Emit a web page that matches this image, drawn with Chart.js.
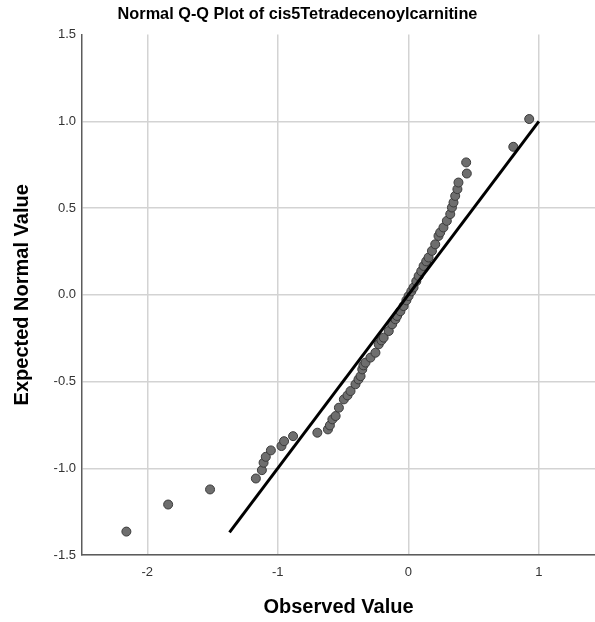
<!DOCTYPE html>
<html lang="en">
<head>
  <meta charset="UTF-8">
  <title>Normal Q-Q Plot</title>
  <script src="https://cdn.jsdelivr.net/npm/chart.js"></script>
  <style>
    html, body { margin: 0; padding: 0; background: #fff; }
    #wrap { width: 595px; height: 622px; }
  </style>
</head>
<body>
  <div id="wrap"><canvas id="qq" width="595" height="622"></canvas></div>

  <script>
    const observed = [
      -2.160, -1.840, -1.519, -1.168, -1.122, -1.109, -1.092, -1.053, -0.972, -0.952,
      -0.883, -0.697, -0.616, -0.601, -0.582, -0.557, -0.532, -0.494, -0.466, -0.443,
      -0.405, -0.382, -0.366, -0.353, -0.344, -0.328, -0.290, -0.252, -0.227, -0.206,
      -0.189, -0.150, -0.124, -0.099, -0.086, -0.061, -0.036, -0.015, 0.002, 0.023,
      0.040, 0.061, 0.079, 0.099, 0.117, 0.137, 0.155, 0.181, 0.206, 0.231,
      0.244, 0.269, 0.295, 0.321, 0.334, 0.346, 0.359, 0.376, 0.384, 0.448,
      0.443, 0.804, 0.926
    ];
    const expected = [
      -1.365, -1.209, -1.122, -1.059, -1.011, -0.968, -0.934, -0.897, -0.872, -0.844,
      -0.815, -0.795, -0.776, -0.753, -0.718, -0.699, -0.651, -0.603, -0.580, -0.555,
      -0.516, -0.488, -0.469, -0.430, -0.407, -0.391, -0.362, -0.334, -0.286, -0.263,
      -0.247, -0.209, -0.170, -0.141, -0.122, -0.095, -0.065, -0.032, -0.007, 0.020,
      0.042, 0.078, 0.108, 0.136, 0.166, 0.193, 0.215, 0.253, 0.291, 0.339,
      0.359, 0.388, 0.426, 0.465, 0.503, 0.532, 0.570, 0.609, 0.647, 0.699,
      0.763, 0.853, 1.013
    ];
    // reference line y = x
    const lineX = [-1.37, 1.0];
    const lineY = [-1.37, 1.0];

    const xTicks = [-2, -1, 0, 1];
    const yTicks = [-1.5, -1.0, -0.5, 0.0, 0.5, 1.0, 1.5];

    const points = observed.map((v, i) => ({ x: v, y: expected[i] }));
    const line = lineX.map((v, i) => ({ x: v, y: lineY[i] }));

    const gridColor = '#d3d3d3';
    const axisColor = '#5c5c5c';
    const fontFamily = '"Liberation Sans", Arial, sans-serif';

    new Chart(document.getElementById('qq').getContext('2d'), {
      type: 'scatter',
      data: {
        datasets: [
          {
            label: 'Reference',
            type: 'line',
            data: line,
            borderColor: '#000',
            borderWidth: 3,
            pointRadius: 0,
            fill: false,
            order: 0
          },
          {
            label: 'Observed',
            data: points,
            backgroundColor: '#6e6e6e',
            borderColor: '#3a3a3a',
            borderWidth: 1,
            pointRadius: 4.5,
            order: 1
          }
        ]
      },
      options: {
        responsive: false,
        animation: false,
        layout: { autoPadding: false, padding: 0 },
        plugins: {
          legend: { display: false },
          tooltip: { enabled: false },
          title: {
            display: true,
            text: 'Normal Q-Q Plot of cis5Tetradecenoylcarnitine',
            color: '#000',
            font: { family: fontFamily, size: 16.3, weight: 'bold' },
            padding: { top: 5, bottom: 10 }
          }
        },
        scales: {
          x: {
            type: 'linear',
            min: -2.5,
            max: 1.43,
            afterBuildTicks: scale => {
              scale.ticks = xTicks.map(v => ({ value: v }));
            },
            afterFit: scale => { scale.height = 67; },
            grid: { color: gridColor, lineWidth: 1.5, drawTicks: false },
            border: { color: axisColor, width: 1.5 },
            ticks: {
              padding: 10,
              color: '#333',
              font: { family: fontFamily, size: 13 },
              callback: v => String(v)
            },
            title: {
              display: true,
              text: 'Observed Value',
              color: '#000',
              font: { family: fontFamily, size: 20, weight: 'bold' },
              padding: { top: 0, bottom: 3 }
            }
          },
          y: {
            type: 'linear',
            min: -1.5,
            max: 1.5,
            afterBuildTicks: scale => {
              scale.ticks = yTicks.map(v => ({ value: v }));
            },
            afterFit: scale => { scale.width = 82; },
            grid: {
              color: ctx => (ctx.tick && ctx.tick.value === 1.5) ? 'rgba(0,0,0,0)' : gridColor,
              lineWidth: 1.5,
              drawTicks: false
            },
            border: { color: axisColor, width: 1.5 },
            ticks: {
              padding: 6,
              color: '#333',
              font: { family: fontFamily, size: 13 },
              callback: v => Number(v).toFixed(1)
            },
            title: {
              display: true,
              text: 'Expected Normal Value',
              color: '#000',
              font: { family: fontFamily, size: 20, weight: 'bold' },
              padding: { top: 10, bottom: 0 }
            }
          }
        }
      }
    });
  </script>
</body>
</html>
